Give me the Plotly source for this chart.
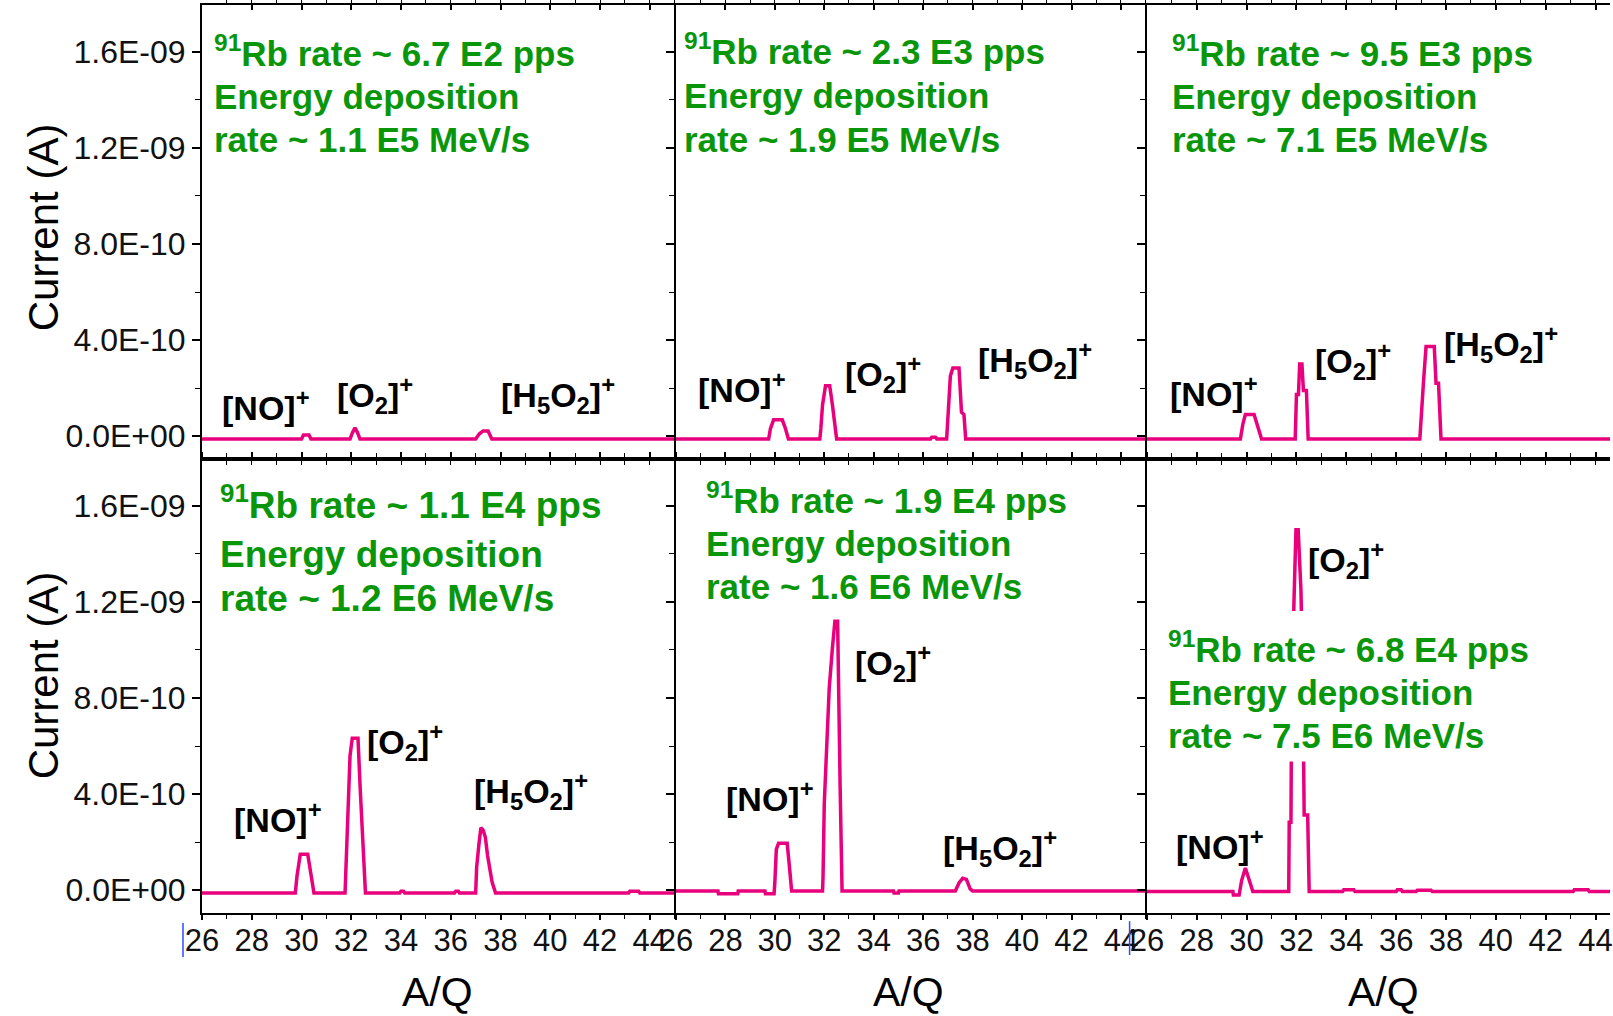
import plotly.graph_objects as go

# ---------------- data ----------------
UNIT = 1e-10  # currents below are in units of 1e-10 A

AQ_RANGE = [26, 45.05]
AQ_RANGE_LAST = [26, 44.58]
I_RANGE = [-0.95e-10, 17.95e-10]

X_TICKVALS = [26, 28, 30, 32, 34, 36, 38, 40, 42, 44]
X_TICKTEXT = ["26", "28", "30", "32", "34", "36", "38", "40", "42", "44"]
Y_TICKVALS = [0, 4e-10, 8e-10, 1.2e-9, 1.6e-9]
Y_TICKTEXT = ["0.0E+00", "4.0E-10", "8.0E-10", "1.2E-09", "1.6E-09"]

# panel 1: 91Rb ~ 6.7E2 pps
p1_aq = [26, 30.0, 30.08, 30.3, 30.38, 31.95, 32.05, 32.15, 32.25, 32.35,
         37.0, 37.15, 37.3, 37.5, 37.65, 45.05]
p1_cur = [-0.12, -0.12, 0.05, 0.05, -0.12, -0.12, 0.15, 0.35, 0.15, -0.12,
          -0.12, 0.1, 0.22, 0.22, -0.12, -0.12]

# panel 2: 91Rb ~ 2.3E3 pps
p2_aq = [26, 29.75, 29.82, 29.95, 30.3, 30.42, 30.55, 31.82, 31.86, 31.93, 32.05,
         32.22, 32.33, 32.45, 32.5, 36.3, 36.35, 36.5, 36.55, 36.95, 37.0, 37.1,
         37.2, 37.45, 37.55, 37.65, 37.72, 45.05]
p2_cur = [-0.12, -0.12, 0.3, 0.68, 0.68, 0.35, -0.12, -0.12, 0.3, 1.3, 2.1,
          2.1, 1.3, 0.2, -0.12, -0.12, -0.04, -0.04, -0.12, -0.12, 0.9, 2.5,
          2.84, 2.84, 1.0, 0.9, -0.12, -0.12]

# panel 3: 91Rb ~ 9.5E3 pps
p3_aq = [26, 29.75, 29.85, 29.95, 30.3, 30.45, 30.6, 31.95, 32.0, 32.08, 32.13,
         32.22, 32.28, 32.4, 32.47, 36.95, 37.0, 37.1, 37.2, 37.53, 37.6, 37.7,
         37.8, 44.58]
p3_cur = [-0.12, -0.12, 0.5, 0.9, 0.9, 0.4, -0.12, -0.12, 1.73, 1.73, 3.0,
          3.0, 1.9, 1.9, -0.12, -0.12, 0.9, 2.3, 3.73, 3.73, 2.2, 2.2,
          -0.12, -0.12]

# panel 4: 91Rb ~ 1.1E4 pps
p4_aq = [26, 29.75, 29.82, 29.95, 30.25, 30.35, 30.5, 31.75, 31.78, 31.86, 31.95,
         32.04, 32.27, 32.36, 32.48, 32.57, 33.95, 34.0, 34.1, 34.15, 36.15, 36.2,
         36.3, 36.35, 37.0, 37.04, 37.13, 37.21, 37.3, 37.39, 37.48, 37.66, 37.8,
         43.15, 43.2, 43.55, 43.6, 45.05]
p4_cur = [-0.12, -0.12, 0.6, 1.5, 1.5, 0.9, -0.12, -0.12, 0.9, 3.1, 5.6,
          6.33, 6.33, 4.2, 2.0, -0.12, -0.12, -0.04, -0.04, -0.12, -0.12, -0.04,
          -0.04, -0.12, -0.12, 0.96, 1.9, 2.6, 2.5, 2.2, 1.43, 0.34, -0.12,
          -0.12, -0.04, -0.04, -0.12, -0.12]

# panel 5: 91Rb ~ 1.9E4 pps
p5_aq = [26, 27.7, 27.72, 28.5, 28.52, 29.6, 29.62, 29.97, 30.0, 30.06, 30.15,
         30.5, 30.58, 30.68, 31.93, 31.95, 32.0, 32.1, 32.2, 32.33, 32.43,
         32.54, 32.57, 32.64, 32.72, 34.8, 34.82, 35.0, 35.02, 37.3, 37.45, 37.6,
         37.75, 37.9, 38.0, 45.05]
p5_cur = [-0.03, -0.03, -0.15, -0.15, -0.03, -0.03, -0.15, -0.15, 0.3, 1.7, 1.95,
          1.95, 1.1, -0.03, -0.03, 0.55, 3.6, 6.4, 8.4, 10.1, 11.2,
          11.2, 8.4, 4.4, -0.03, -0.03, -0.12, -0.12, -0.03, -0.03, 0.3, 0.5,
          0.45, 0.05, -0.03, -0.03]

# panel 6: 91Rb ~ 6.8E4 pps
p6_aq = [26, 29.45, 29.47, 29.7, 29.8, 29.95, 30.05, 30.15, 30.25, 31.69, 31.71,
         31.78, 31.8, 31.9, 31.93, 31.98, 32.07, 32.11, 32.18, 32.25, 32.31, 32.45,
         32.51, 33.85, 33.9, 34.3, 34.35, 36.0, 36.05, 36.2, 36.25, 36.8, 36.85,
         37.4, 37.45, 43.1, 43.15, 43.7, 43.75, 44.58]
p6_cur = [-0.06, -0.06, -0.2, -0.2, 0.4, 0.92, 0.6, 0.3, -0.06, -0.06, 2.83,
          2.83, 7.0, 12.0, 13.3, 15.0, 15.0, 13.9, 12.5, 9.0, 3.13, 3.13,
          -0.06, -0.06, 0.02, 0.02, -0.06, -0.06, 0.02, 0.02, -0.06, -0.06, 0.0,
          0.0, -0.06, -0.06, 0.02, 0.02, -0.06, -0.06]

RB_RATE = ["6.7 E2", "2.3 E3", "9.5 E3", "1.1 E4", "1.9 E4", "6.8 E4"]
EDEP_RATE = ["1.1 E5", "1.9 E5", "7.1 E5", "1.2 E6", "1.6 E6", "7.5 E6"]

ION_NO = "[NO]<sup>+</sup>"
ION_O2 = "[O<sub>2</sub>]<sup>+</sup>"
ION_H5O2 = "[H<sub>5</sub>O<sub>2</sub>]<sup>+</sup>"

# ---------------- layout helpers ----------------
PINK = "#E8007D"
GREEN = "#0A960A"
FONT = "Arial, Liberation Sans, sans-serif"

panels_x = [p1_aq, p2_aq, p3_aq, p4_aq, p5_aq, p6_aq]
panels_y = [p1_cur, p2_cur, p3_cur, p4_cur, p5_cur, p6_cur]

X_DOMAINS = [[0.0, 0.3366], [0.3366, 0.6711], [0.6711, 1.0]]
Y_DOMAINS = [[0.5, 1.0], [0.0, 0.5]]

fig = go.Figure()
for i in range(6):
    sfx = "" if i == 0 else str(i + 1)
    fig.add_trace(go.Scatter(
        x=panels_x[i], y=[v * UNIT for v in panels_y[i]],
        mode="lines", line=dict(color=PINK, width=3.5),
        xaxis="x" + sfx, yaxis="y" + sfx, showlegend=False,
        hoverinfo="skip"))

layout = dict(
    width=1613, height=1016,
    margin=dict(l=202, r=0, t=5, b=103, pad=0),
    paper_bgcolor="white", plot_bgcolor="white",
    font=dict(family=FONT, color="black"),
    showlegend=False,
)

for i in range(6):
    row, col = divmod(i, 3)
    sfx = "" if i == 0 else str(i + 1)
    xr = AQ_RANGE_LAST if col == 2 else AQ_RANGE
    layout["xaxis" + sfx] = dict(
        domain=X_DOMAINS[col], anchor="y" + sfx, range=xr,
        showline=True, linecolor="black", linewidth=2, mirror="allticks",
        ticks="outside" if row == 1 else "inside", ticklen=5, tickwidth=1.5,
        tickcolor="black",
        tickvals=X_TICKVALS, ticktext=X_TICKTEXT,
        minor=dict(tickmode="linear", tick0=26, dtick=1, ticklen=4,
                   tickwidth=1.2, tickcolor="black"),
        showticklabels=(row == 1),
        ticklabeloverflow="allow",
        ticklabelstandoff=-6,
        tickfont=dict(size=31, family=FONT, color="#111"),
        showgrid=False, zeroline=False, fixedrange=True,
    )
    layout["yaxis" + sfx] = dict(
        domain=Y_DOMAINS[row], anchor="x" + sfx, range=I_RANGE,
        showline=True, linecolor="black", linewidth=2, mirror=False,
        ticks="outside", ticklen=8, tickwidth=1.5, tickcolor="black",
        tickvals=Y_TICKVALS, ticktext=Y_TICKTEXT,
        minor=dict(tickmode="linear", tick0=0, dtick=2e-10, ticklen=5,
                   tickwidth=1.2, tickcolor="black"),
        showticklabels=(col == 0),
        tickfont=dict(size=32, family=FONT, color="#111"),
        showgrid=False, zeroline=False, fixedrange=True,
    )

fig.update_layout(**layout)

annotations = []

# green info text: (x left, y centres of the three lines in 1e-10 A, font size)
INFO_POS = [
    (26.45, (15.91, 14.11, 12.31), 35),
    (26.28, (16.00, 14.15, 12.31), 35),
    (26.95, (15.91, 14.11, 12.31), 35),
    (26.68, (16.00, 13.94, 12.11), 37),
    (27.16, (16.21, 14.41, 12.62), 35),
    (26.79, (10.01, 8.17, 6.38), 35),
]
for i in range(6):
    sfx = "" if i == 0 else str(i + 1)
    x0, ys, fs = INFO_POS[i]
    lines = ["<sup>91</sup>Rb rate ~ " + RB_RATE[i] + " pps",
             "Energy deposition",
             "rate ~ " + EDEP_RATE[i] + " MeV/s"]
    for k, (txt, yv) in enumerate(zip(lines, ys)):
        annotations.append(dict(
            x=x0, y=yv * UNIT, xref="x" + sfx, yref="y" + sfx,
            xanchor="left", yanchor="middle", align="left", showarrow=False,
            text=txt, borderpad=0, yshift=3 if k == 0 else 1,
            font=dict(family=FONT, size=fs, color=GREEN, weight="bold"),
        ))

# peak labels: (panel, label, x left, y middle)
LABELS = [
    (0, ION_NO, 26.72, 1.29e-10), (0, ION_O2, 31.33, 1.71e-10), (0, ION_H5O2, 37.92, 1.71e-10),
    (1, ION_NO, 26.80, 2.01e-10), (1, ION_O2, 32.75, 2.57e-10), (1, ION_H5O2, 38.13, 3.17e-10),
    (2, ION_NO, 26.83, 1.88e-10), (2, ION_O2, 32.68, 3.13e-10), (2, ION_H5O2, 37.84, 3.85e-10),
    (3, ION_NO, 27.22, 3.04e-10), (3, ION_O2, 32.57, 6.16e-10), (3, ION_H5O2, 36.85, 4.11e-10),
    (4, ION_NO, 27.94, 3.90e-10), (4, ION_O2, 33.16, 9.46e-10), (4, ION_H5O2, 36.72, 1.76e-10),
    (5, ION_NO, 27.07, 1.89e-10), (5, ION_O2, 32.40, 13.73e-10),
]
for p, lab, lx, ly in LABELS:
    sfx = "" if p == 0 else str(p + 1)
    annotations.append(dict(
        x=lx, y=ly, xref="x" + sfx, yref="y" + sfx,
        xanchor="left", yanchor="middle", showarrow=False, text=lab,
        font=dict(family=FONT, size=34, color="black", weight="bold"),
    ))

# axis titles
for yc in (0.7555, 0.2621):
    annotations.append(dict(
        x=-0.1127, y=yc, xref="paper", yref="paper", text="Current (A)",
        textangle=-90, showarrow=False, xanchor="center", yanchor="middle",
        font=dict(family=FONT, size=42, color="black"),
    ))
for xc in (0.1673, 0.5018, 0.8391):
    annotations.append(dict(
        x=xc, y=-0.0865, xref="paper", yref="paper", text="A/Q",
        showarrow=False, xanchor="center", yanchor="middle",
        font=dict(family=FONT, size=41, color="black"),
    ))

fig.update_layout(annotations=annotations)

shapes = [
    # white backing behind the info text of the last panel (hides the trace there)
    dict(type="rect", xref="x6", yref="y6", x0=26.44, x1=41.9,
         y0=5.36e-10, y1=11.62e-10, fillcolor="white",
         line=dict(width=0), layer="above"),
    # small blue cursor marks present in the original image
    dict(type="line", xref="paper", yref="paper", x0=-0.0135, x1=-0.0135,
         y0=-0.011, y1=-0.0485, line=dict(color="#2a4bff", width=1.5)),
    dict(type="line", xref="paper", yref="paper", x0=0.6588, x1=0.6588,
         y0=-0.009, y1=-0.0463, line=dict(color="#2a4bff", width=1.5)),
]
fig.update_layout(shapes=shapes)

fig.write_html("out.html")
